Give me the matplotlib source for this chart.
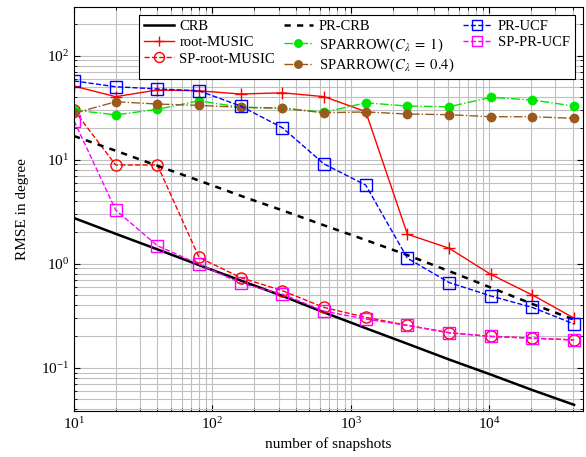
import numpy as np
import matplotlib.pyplot as plt

plt.rcParams['font.family'] = ['Liberation Serif', 'DejaVu Serif']
plt.rcParams['mathtext.fontset'] = 'stix'

# Anzahl der Snapshots
snapshots = [10, 20, 40, 80, 160, 320, 640, 1280, 2560, 5120, 10240, 20480, 40960]

crb = [2.75, 1.94, 1.375, 0.97, 0.69, 0.49, 0.34, 0.24, 0.17, 0.12, 0.086, 0.061, 0.044]
pr_crb = [16.9, 12.2, 8.75, 6.3, 4.5, 3.26, 2.34, 1.69, 1.21, 0.85, 0.59, 0.41, 0.29]
root_music = [51, 40.4, 46.8, 46, 42.8, 44, 40.4, 29, 1.92, 1.41, 0.79, 0.5, 0.30]
sp_root_music = [30, 8.9, 8.9, 1.15, 0.735, 0.55, 0.38, 0.305, 0.256, 0.217, 0.2, 0.193, 0.185]
sparrow_1 = [30, 27, 30.5, 36.9, 31.9, 31.5, 28.5, 35.3, 32.8, 32.3, 39.8, 37.5, 32.8]
sparrow_04 = [27.9, 36.1, 34.3, 33.3, 31.9, 31.2, 28.3, 28.8, 27.5, 27.1, 25.9, 25.9, 25]
pr_ucf = [57.2, 50.3, 47.9, 46, 32.8, 20.3, 9.1, 5.7, 1.13, 0.66, 0.49, 0.38, 0.263]
sp_pr_ucf = [23.7, 3.28, 1.49, 0.99, 0.65, 0.51, 0.35, 0.294, 0.255, 0.217, 0.2, 0.192, 0.185]

brown = '#9a5a1e'

fig = plt.figure(figsize=(5.86, 4.57), dpi=100)
ax = fig.add_axes([0.1263, 0.1007, 0.8686, 0.884])

h_crb, = ax.plot(snapshots, crb, color='black', lw=1.8, label='CRB')
h_rm, = ax.plot(snapshots, root_music, color='red', lw=1.0, marker='+', ms=8.5, mew=1.0,
                label='root-MUSIC')
h_sprm, = ax.plot(snapshots, sp_root_music, color='red', lw=1.0, ls='--', marker='o', ms=8,
                  mfc='none', mew=1.0, label='SP-root-MUSIC')
h_prcrb, = ax.plot(snapshots, pr_crb, color='black', lw=1.8, ls=(0, (2.5, 2.5)), label='PR-CRB')
h_sp1, = ax.plot(snapshots, sparrow_1, color='#00e600', lw=1.0, ls='-.', marker='o', ms=6,
                 label=r'SPARROW($C_{\lambda}\;=\;1$)')
h_sp04, = ax.plot(snapshots, sparrow_04, color=brown, lw=1.0, ls='-.', marker='o', ms=6,
                  label=r'SPARROW($C_{\lambda}\;=\;0.4$)')
h_ucf, = ax.plot(snapshots, pr_ucf, color='blue', lw=1.0, ls='--', marker='s', ms=8,
                 mfc='none', mew=1.0, label='PR-UCF')
h_spucf, = ax.plot(snapshots, sp_pr_ucf, color='magenta', lw=1.0, ls='--', marker='s', ms=8,
                   mfc='none', mew=1.0, label='SP-PR-UCF')

ax.set_xscale('log')
ax.set_yscale('log')
ax.set_xlim(10, 47500)
ax.set_ylim(0.0384, 294)

ax.grid(True, which='major', color='#c0c0c0', lw=0.8)
ax.grid(True, which='minor', color='#c0c0c0', lw=0.8)
ax.tick_params(which='both', direction='in', top=True, right=True, labelsize=11)
ax.tick_params(which='major', length=4)
ax.tick_params(which='minor', length=2)

ax.set_xlabel('number of snapshots', fontsize=11)
ax.set_ylabel('RMSE in degree', fontsize=11, labelpad=9)

handles = [h_crb, h_rm, h_sprm, h_prcrb, h_sp1, h_sp04, h_ucf, h_spucf]
leg = ax.legend(handles=handles, ncol=3, loc='upper right', fontsize=10.5, frameon=True,
                fancybox=False, edgecolor='black', framealpha=1, borderaxespad=0.55,
                handlelength=2.0, columnspacing=0.6, handletextpad=0.4, labelspacing=0.2,
                borderpad=0.35, markerscale=0.9)
leg.get_frame().set_linewidth(0.8)

fig.savefig('out.png', dpi=100)
